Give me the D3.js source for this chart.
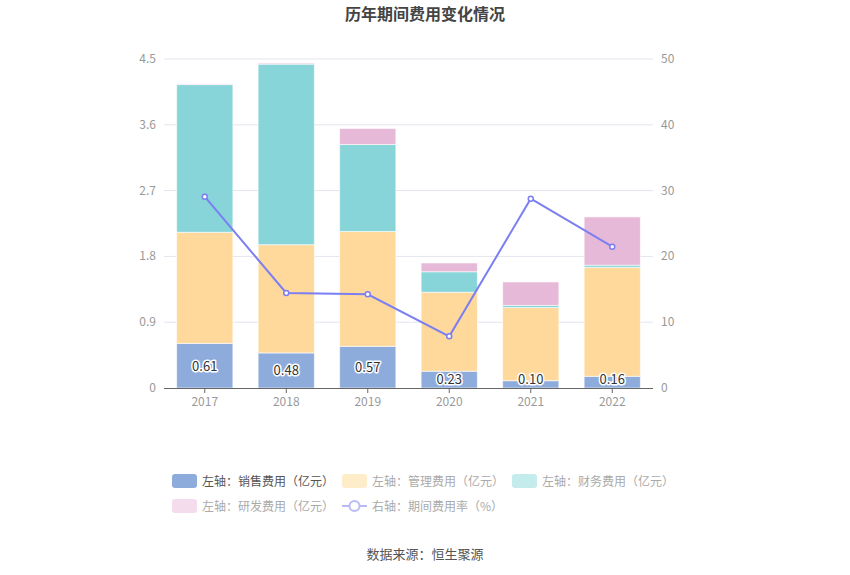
<!DOCTYPE html>
<html><head><meta charset="utf-8">
<script src="https://cdn.jsdelivr.net/npm/d3@7/dist/d3.min.js"></script>
<style>body{margin:0;background:#fff;}text{font-family:"Noto Sans CJK SC","Noto Sans",sans-serif;}</style>
</head><body><svg id="c" width="850" height="575"></svg>
<script>
const years = ["2017","2018","2019","2020","2021","2022"];
const sales = [0.61,0.48,0.57,0.23,0.10,0.16];
const mgmt = [1.52,1.48,1.57,1.08,1.00,1.49];
const finance = [2.02,2.47,1.19,0.28,0.03,0.03];
const rnd = [0.01,0.015,0.22,0.12,0.32,0.66];
const rate = [29.07,14.44,14.24,7.85,28.77,21.47];
const leftTicks = [0,0.9,1.8,2.7,3.6,4.5];
const rightTicks = [0,10,20,30,40,50];
const seriesNames = ["左轴：销售费用（亿元）","左轴：管理费用（亿元）","左轴：财务费用（亿元）","左轴：研发费用（亿元）","右轴：期间费用率（%）"];

const colors = ["#8eacdb","#ffd89c","#87d5d9","#e7b9d8"];
const legendColors = ["#8eacdb","#ffecc9","#c4eced","#f4dcec"];
const lineColor = "#7b7ff2";

const svg = d3.select("#c");
const L=164, R=653, T=59, B=388;
const x = d3.scaleBand().domain(years).range([L,R]).paddingInner(0.31).paddingOuter(0.155);
const xc = d3.scaleBand().domain(years).range([L,R]);
const y = d3.scaleLinear().domain([0,4.5]).range([B,T]);
const y2 = d3.scaleLinear().domain([0,50]).range([B,T]);

svg.append("text").attr("x",425).attr("y",20).attr("text-anchor","middle")
  .attr("font-size",16).attr("font-weight","bold").attr("fill","#444").text("历年期间费用变化情况");

// grid
svg.append("g").selectAll("line").data(leftTicks.slice(1)).join("line")
  .attr("x1",L).attr("x2",R).attr("y1",d=>y(d)).attr("y2",d=>y(d))
  .attr("stroke","#e3e5ee").attr("stroke-width",1);

// axis labels
svg.append("g").selectAll("text").data(leftTicks).join("text")
  .attr("x",156).attr("y",d=>y(d)+4).attr("text-anchor","end")
  .attr("font-size",12).attr("fill","#999").text(d=>d);
svg.append("g").selectAll("text").data(rightTicks).join("text")
  .attr("x",661).attr("y",d=>y2(d)+4).attr("text-anchor","start")
  .attr("font-size",12).attr("fill","#999").text(d=>d);

// stacks
const stackData = years.map((yr,i)=>({year:yr,s0:sales[i],s1:mgmt[i],s2:finance[i],s3:rnd[i]}));
const stack = d3.stack().keys(["s0","s1","s2","s3"])(stackData);
stack.forEach((layer,k)=>{
  svg.append("g").selectAll("rect").data(layer).join("rect")
    .attr("x",d=>x(d.data.year)).attr("width",x.bandwidth())
    .attr("y",d=>y(d[1])).attr("height",d=>Math.max(0,y(d[0])-y(d[1])))
    .attr("fill",colors[k]).attr("stroke","rgba(255,255,255,0.6)").attr("stroke-width",1);
});

// x axis
svg.append("line").attr("x1",L).attr("x2",R).attr("y1",B+0.5).attr("y2",B+0.5).attr("stroke","#666");
svg.append("g").selectAll("line").data(years).join("line")
  .attr("x1",d=>xc(d)+xc.bandwidth()/2).attr("x2",d=>xc(d)+xc.bandwidth()/2)
  .attr("y1",B).attr("y2",B+5).attr("stroke","#666");
svg.append("g").selectAll("text").data(years).join("text")
  .attr("x",d=>xc(d)+xc.bandwidth()/2).attr("y",B+18).attr("text-anchor","middle")
  .attr("font-size",12).attr("fill","#999").text(d=>d);

// sales labels
svg.append("g").selectAll("text").data(stack[0]).join("text")
  .attr("x",d=>x(d.data.year)+x.bandwidth()/2)
  .attr("y",d=>Math.min((y(d[0])+y(d[1]))/2, B-9)+5)
  .attr("text-anchor","middle").attr("font-size",13).attr("fill","#333")
  .attr("stroke","#fff").attr("stroke-width",3).attr("paint-order","stroke")
  .attr("stroke-linejoin","round").text(d=>d.data.s0.toFixed(2));

// line
const lineGen = d3.line().x((d,i)=>xc(years[i])+xc.bandwidth()/2).y(d=>y2(d));
svg.append("path").datum(rate).attr("d",lineGen).attr("fill","none").attr("stroke",lineColor).attr("stroke-width",2);
svg.append("g").selectAll("circle").data(rate).join("circle")
  .attr("cx",(d,i)=>xc(years[i])+xc.bandwidth()/2).attr("cy",d=>y2(d)).attr("r",2.5)
  .attr("fill","#fff").attr("stroke",lineColor).attr("stroke-width",1.5);

// legend
const legPos = [[172,481],[342,481],[512,481],[172,506],[342,506]];
const lg = svg.append("g");
seriesNames.forEach((n,i)=>{
  const [lx,ly]=legPos[i];
  if(i<4){
    lg.append("rect").attr("x",lx).attr("y",ly-7).attr("width",25).attr("height",14).attr("rx",3)
      .attr("fill",legendColors[i]);
  } else {
    lg.append("line").attr("x1",lx).attr("x2",lx+25).attr("y1",ly).attr("y2",ly).attr("stroke","#b9bbf7").attr("stroke-width",2);
    lg.append("circle").attr("cx",lx+12.5).attr("cy",ly).attr("r",5).attr("fill","#fff").attr("stroke","#b9bbf7").attr("stroke-width",2);
  }
  lg.append("text").attr("x",lx+30).attr("y",ly+4.5).attr("font-size",12)
    .attr("fill",i===0?"#555":"#aaa").text(n);
});

svg.append("text").attr("x",425).attr("y",559).attr("text-anchor","middle")
  .attr("font-size",13).attr("fill","#555").text("数据来源：恒生聚源");
</script></body></html>
